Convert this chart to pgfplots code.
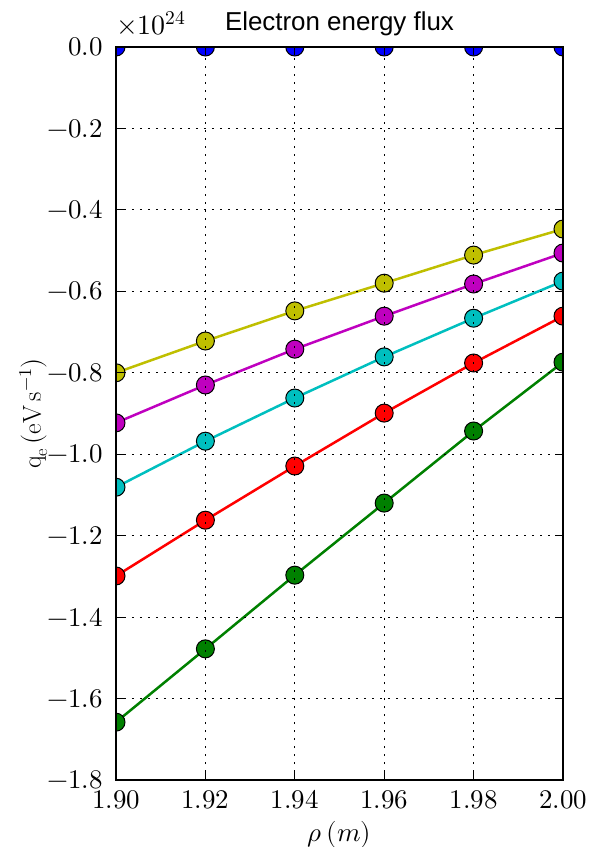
\documentclass[border=0pt]{standalone}
\usepackage{fontspec}
\usepackage{unicode-math}
\setmathfont{Latin Modern Math}
\usepackage{pgfplots}
\pgfplotsset{compat=1.18}
\newfontfamily\titlefont{Liberation Sans}
\definecolor{mb}{rgb}{0,0,1}
\definecolor{mg}{rgb}{0,0.5,0}
\definecolor{mr}{rgb}{1,0,0}
\definecolor{mc}{rgb}{0,0.75,0.75}
\definecolor{mm}{rgb}{0.75,0,0.75}
\definecolor{my}{rgb}{0.75,0.75,0}
\begin{document}
\begin{tikzpicture}
\begin{axis}[
  at={(0,0)}, anchor=south west,
  scale only axis, width=447bp, height=733bp,
  xmin=1.90, xmax=2.00, ymin=-1.8, ymax=0.0,
  xtick={1.90,1.92,1.94,1.96,1.98,2.00},
  ytick={-1.8,-1.6,-1.4,-1.2,-1.0,-0.8,-0.6,-0.4,-0.2,0.0},
  xticklabel style={/pgf/number format/.cd, fixed, fixed zerofill, precision=2, /tikz/.cd, inner sep=0pt, yshift=-10bp},
  yticklabel style={/pgf/number format/.cd, fixed, fixed zerofill, precision=1, /tikz/.cd, inner sep=0pt, xshift=-13bp},
  scaled x ticks=false, scaled y ticks=false,
  tick align=inside, major tick length=8bp,
  tick style={black, line width=1bp},
  axis line style={black, line width=2.5bp},
  grid=major,
  grid style={black, line width=1.2bp, dash pattern=on 2bp off 6bp},
  axis on top,
  clip marker paths=true,
  tick label style={font=\fontsize{27}{30}\selectfont},
  title={Electron energy flux},
  title style={font=\titlefont\fontsize{26}{30}\selectfont, yshift=2bp},
  xlabel={$\rho\,(m)$},
  xlabel style={font=\fontsize{27}{30}\selectfont, inner sep=0pt, yshift=-12bp},
  ylabel={$\mathrm{q}_{\mathrm{e}}\,(\mathrm{eV}\,\mathrm{s}^{-1})$},
  ylabel style={font=\fontsize{26}{30}\selectfont, inner sep=0pt, yshift=0bp},
  every axis plot/.append style={line width=2.5bp, mark=*, mark size=9bp},
]
\addplot[mb, mark options={draw=black, fill=mb, line width=1bp}] coordinates {
(1.90,0) (1.92,0) (1.94,0) (1.96,0) (1.98,0) (2.00,0)};
\addplot[mg, mark options={draw=black, fill=mg, line width=1bp}] coordinates {
(1.90,-1.658) (1.92,-1.478) (1.94,-1.297) (1.96,-1.120) (1.98,-0.943) (2.00,-0.774)};
\addplot[mr, mark options={draw=black, fill=mr, line width=1bp}] coordinates {
(1.90,-1.299) (1.92,-1.162) (1.94,-1.029) (1.96,-0.899) (1.98,-0.776) (2.00,-0.661)};
\addplot[mc, mark options={draw=black, fill=mc, line width=1bp}] coordinates {
(1.90,-1.081) (1.92,-0.968) (1.94,-0.862) (1.96,-0.761) (1.98,-0.666) (2.00,-0.575)};
\addplot[mm, mark options={draw=black, fill=mm, line width=1bp}] coordinates {
(1.90,-0.923) (1.92,-0.830) (1.94,-0.742) (1.96,-0.661) (1.98,-0.582) (2.00,-0.506)};
\addplot[my, mark options={draw=black, fill=my, line width=1bp}] coordinates {
(1.90,-0.800) (1.92,-0.722) (1.94,-0.648) (1.96,-0.580) (1.98,-0.511) (2.00,-0.447)};
\end{axis}
\node[anchor=base west, inner sep=0pt, font=\fontsize{28}{30}\selectfont] at ([yshift=12bp]current axis.north west) {$\times10^{24}$};
\pgfresetboundingbox
\path ([shift={(-116bp,-67bp)}]current axis.south west) rectangle ([shift={(26bp,47bp)}]current axis.north east);
\end{tikzpicture}
\end{document}
